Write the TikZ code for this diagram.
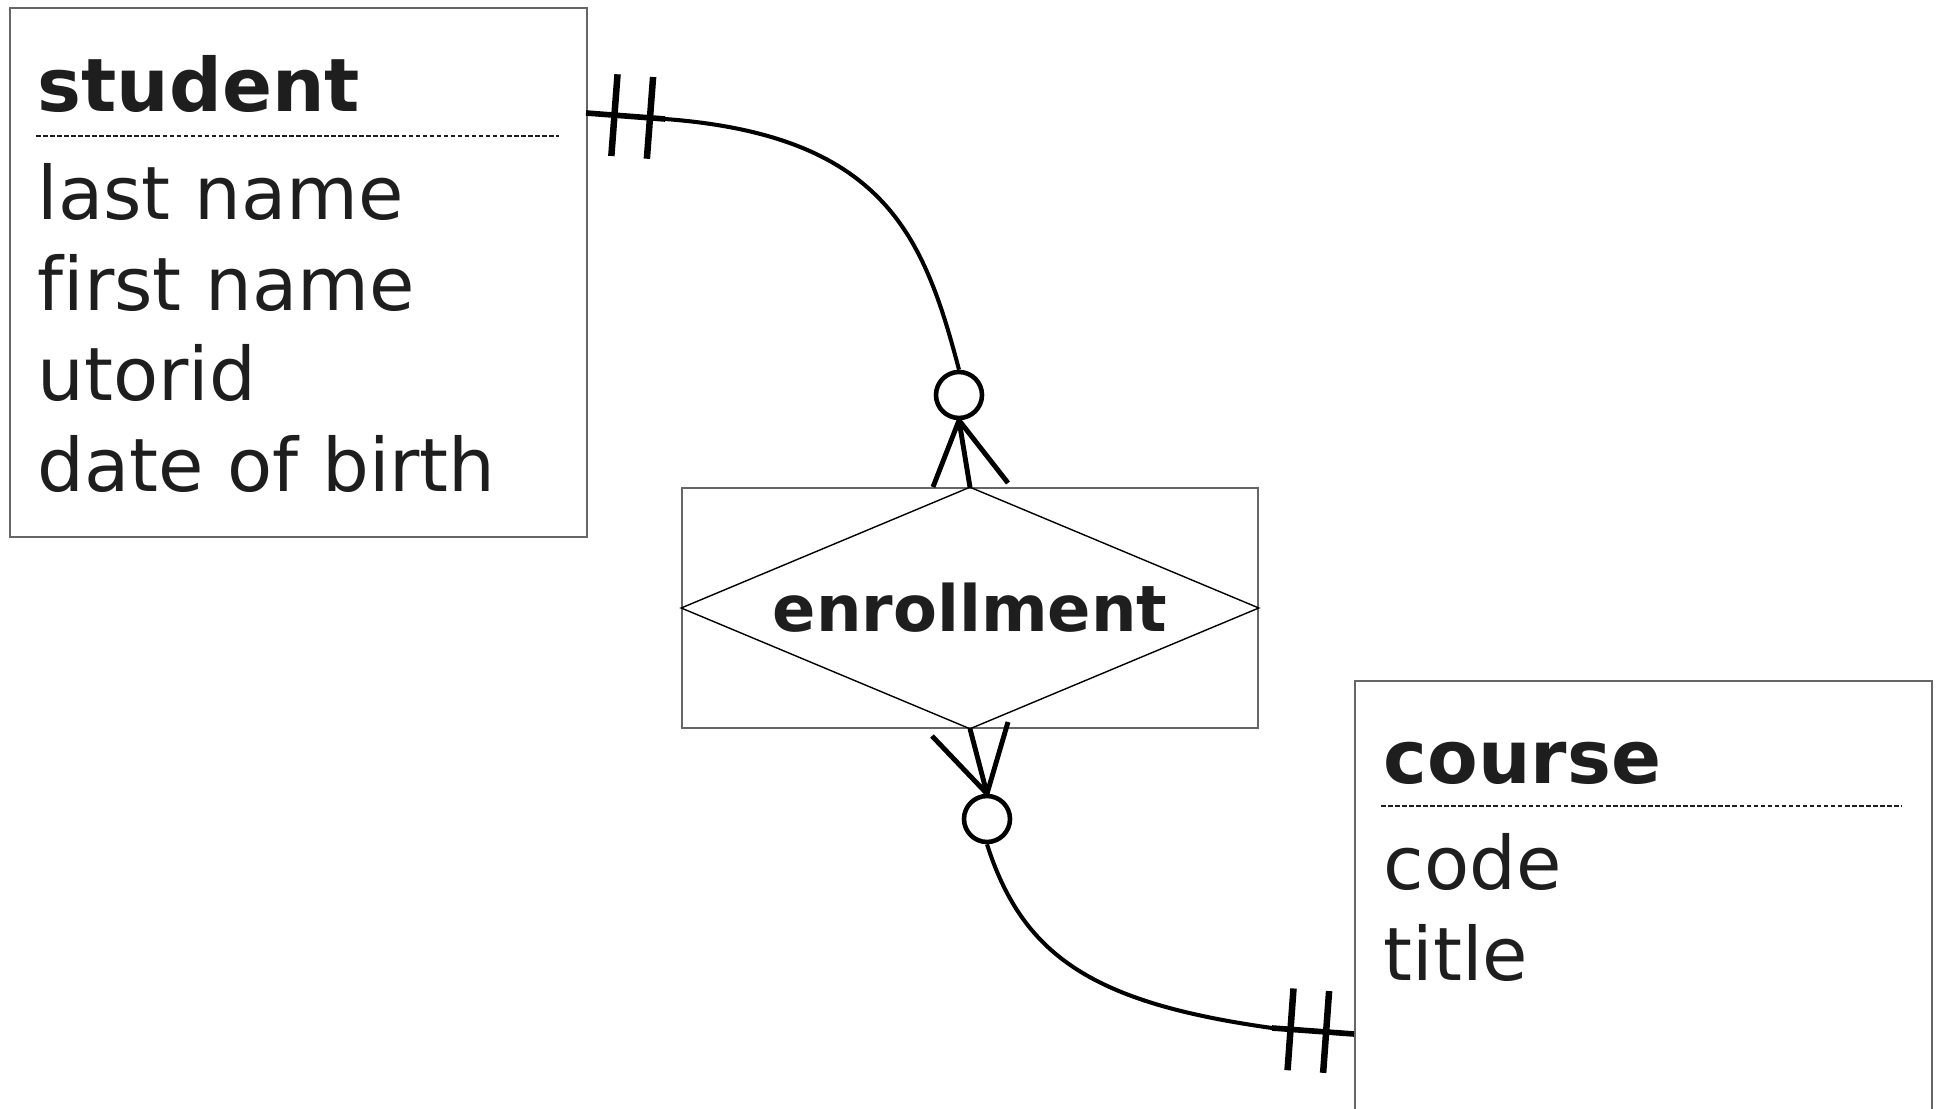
\documentclass[tikz,border=0pt]{standalone}
\usepackage{fontspec}
\setmainfont{DejaVu Sans}[Ligatures=NoCommon]
\usepackage{xcolor}
\usetikzlibrary{shapes,positioning}

\definecolor{ink}{HTML}{1E1E1E}
\definecolor{frame}{HTML}{666666}

\tikzset{
  entity/.style={draw=frame, line width=0.45pt, rectangle, anchor=north west,
    minimum width=5.77cm, inner sep=0},
  ename/.style={anchor=base west, inner sep=0, text=ink,
    font=\fontsize{21pt}{25pt}\selectfont\bfseries},
  eattr/.style={anchor=base west, inner sep=0, text=ink,
    font=\fontsize{21pt}{25pt}\selectfont},
  sep/.style={draw=ink, line width=0.35pt, dash pattern=on 1.3pt off 0.7pt},
  relation/.style={draw=frame, line width=0.45pt, minimum width=5.76cm,
    minimum height=2.40cm, inner sep=0, text=ink,
    font=\fontsize{18.2pt}{22pt}\selectfont\bfseries},
  optional/.style={circle, draw=black, line width=1.3pt, minimum size=0.46cm,
    inner sep=0, fill=white},
  link/.style={line width=1.15pt},
  onestub/.style={line width=1.6pt},
  bar/.style={fill=black, minimum width=0.065cm, minimum height=0.82cm,
    inner sep=0, sloped},
  crow/.style={line width=1.4pt, line join=round},
}

\begin{document}
\begin{tikzpicture}
\clip (0,0) rectangle (19.39,-11.09);

% student entity
\node[entity, minimum height=5.29cm] (student) at (0.093,-0.073) {};
\node[ename] (studentname) at (0.37,-1.12) {student};
\draw[sep] (0.36,-1.36) -- (5.59,-1.36);
\foreach \a [count=\i] in {last name,first name,utorid,date of birth}
  \node[eattr] (student\i) at (0.37,{-2.20-0.905*(\i-1)}) {\a};

% course entity (runs off the bottom)
\node[entity, minimum height=5cm] (course) at (13.54,-6.80) {};
\node[ename] (coursename) at (13.83,-7.84) {course};
\draw[sep] (13.81,-8.06) -- (19.02,-8.06);
\foreach \a [count=\i] in {code,title}
  \node[eattr] (course\i) at (13.83,{-8.90-0.905*(\i-1)}) {\a};

% relationship
\node[relation] (enrollment) at (9.70,-6.08) {enrollment};
\draw[line width=0.4pt] (enrollment.west) -- (enrollment.north)
  -- (enrollment.east) -- (enrollment.south) -- cycle;

% student -- enrollment
\coordinate (studentport) at (5.86,-1.13);
\coordinate (studentstub) at (6.65,-1.19);
\node[optional] (optstudent) at (9.59,-3.95) {};
\coordinate (crowsl) at (9.33,-4.87);
\coordinate (crowsr) at (10.08,-4.83);
\draw[onestub] (studentport) -- (studentstub)
  node[bar, pos=0.36] (barsa) {} node[bar, pos=0.81] (barsb) {};
\draw[link] (studentstub) .. controls (8.85,-1.355) and (9.24,-2.37) .. (optstudent.north);
\draw[crow] (crowsl) -- (optstudent.south) -- (enrollment.north);
\draw[crow] (optstudent.south) -- (crowsr);

% enrollment -- course
\node[optional] (optcourse) at (9.87,-8.19) {};
\coordinate (crowcl) at (9.32,-7.36);
\coordinate (crowcr) at (10.08,-7.22);
\coordinate (coursestub) at (12.72,-10.28);
\coordinate (courseport) at (13.54,-10.34);
\draw[crow] (crowcl) -- (optcourse.north) -- (enrollment.south);
\draw[crow] (optcourse.north) -- (crowcr);
\draw[link] (optcourse.south) .. controls (10.23,-9.57) and (10.94,-10.03) .. (coursestub);
\draw[onestub] (coursestub) -- (courseport)
  node[bar, pos=0.226] (barca) {} node[bar, pos=0.66] (barcb) {};

\end{tikzpicture}
\end{document}
